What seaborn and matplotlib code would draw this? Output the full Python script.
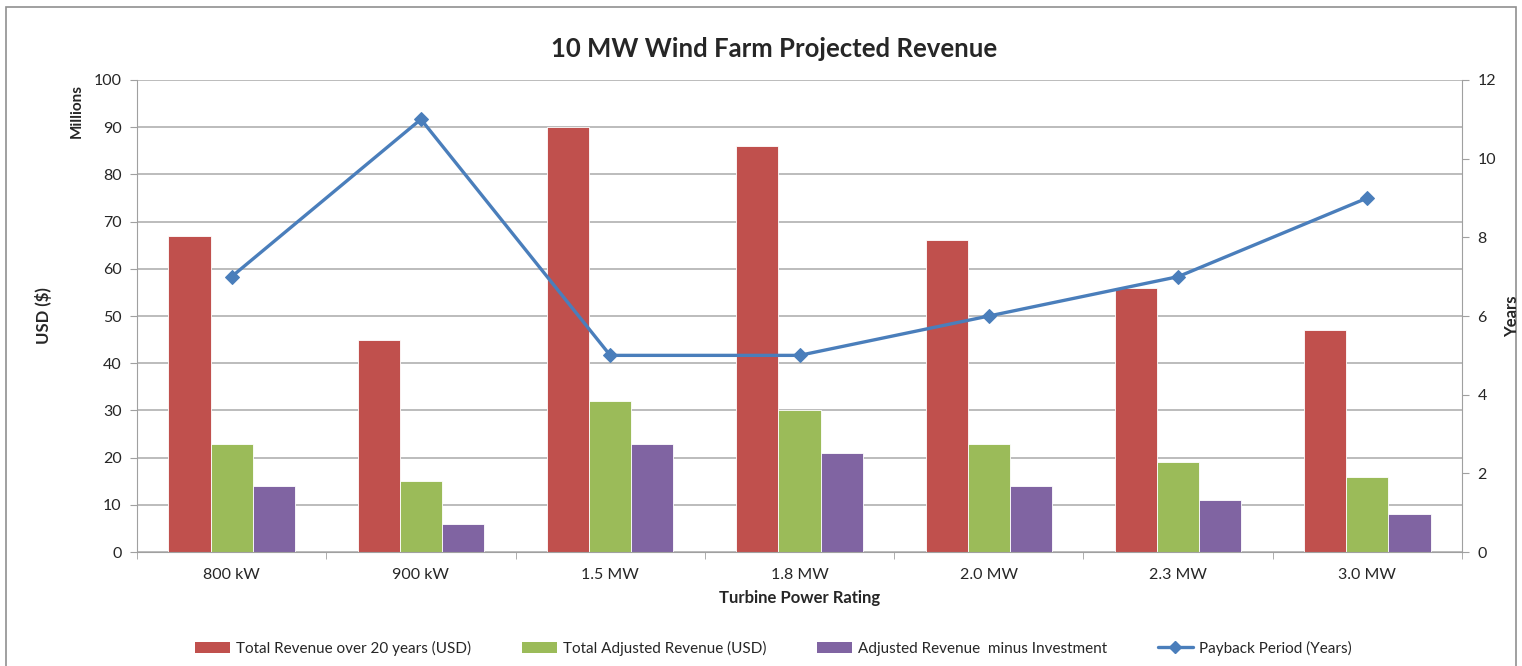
import numpy as np
import pandas as pd
import matplotlib
matplotlib.use("Agg")
import matplotlib.pyplot as plt
import seaborn as sns
from matplotlib.patches import Patch, Rectangle
from matplotlib.lines import Line2D

# Data
ratings = ["800 kW", "900 kW", "1.5 MW", "1.8 MW", "2.0 MW", "2.3 MW", "3.0 MW"]
total_revenue = [67, 45, 90, 86, 66, 56, 47]
adjusted_revenue = [23, 15, 32, 30, 23, 19, 16]
minus_investment = [14, 6, 23, 21, 14, 11, 8]
payback_years = [7, 11, 5, 5, 6, 7, 9]

series_names = ["Total Revenue over 20 years (USD)",
                "Total Adjusted Revenue (USD)",
                "Adjusted Revenue  minus Investment"]
colors = ["#C0504D", "#9BBB59", "#8064A2"]
line_color = "#4A7EBB"

df = pd.DataFrame({
    "rating": ratings * 3,
    "series": np.repeat(series_names, len(ratings)),
    "value": total_revenue + adjusted_revenue + minus_investment,
})

sns.set_style("white")
plt.rcParams["font.family"] = ["Lato", "DejaVu Sans"]

fig = plt.figure(figsize=(15.22, 6.66), dpi=100)
ax = fig.add_axes([0.090, 0.171, 0.8706, 0.709])

sns.barplot(data=df, x="rating", y="value", hue="series", palette=colors,
            width=0.667, gap=0, saturation=1, ax=ax, legend=False,
            edgecolor="white", linewidth=0.6)

ax.set_ylim(0, 100)
ax.set_yticks(range(0, 101, 10))
ax.set_xlim(-0.5, len(ratings) - 0.5)
ax.yaxis.grid(True, color="#b0b0b0", linewidth=1.2)
ax.set_axisbelow(True)
for s in ["top", "right"]:
    ax.spines[s].set_visible(False)
for s in ["left", "bottom"]:
    ax.spines[s].set_color("#a0a0a0")
ax.tick_params(axis="y", which="major", left=True, length=5, color="#a0a0a0",
               labelsize=11.5, pad=6)
ax.tick_params(axis="x", which="major", bottom=False, labelsize=11.5, pad=8)
ax.set_xticks(np.arange(-0.5, len(ratings), 1), minor=True)
ax.tick_params(axis="x", which="minor", bottom=True, length=5, color="#a0a0a0")
ax.set_xlabel("Turbine Power Rating", fontsize=12, fontweight="bold", labelpad=6)
ax.set_ylabel("USD ($)", fontsize=12, fontweight="bold", labelpad=30)
fig.text(0.0506, 0.833, "Millions", rotation=90, fontsize=11, fontweight="bold",
         ha="center", va="center")

ax2 = ax.twinx()
sns.lineplot(x=np.arange(len(ratings)), y=payback_years, ax=ax2, color=line_color,
             linewidth=2.4, marker="D", markersize=7, markeredgecolor=line_color)
ax2.set_ylim(0, 12)
ax2.set_yticks(range(0, 13, 2))
for s in ["top", "left", "bottom"]:
    ax2.spines[s].set_visible(False)
ax2.spines["right"].set_color("#a0a0a0")
ax2.tick_params(axis="y", right=True, length=5, color="#a0a0a0", labelsize=11.5, pad=6)
ax2.set_ylabel("")
ax2.grid(False)
fig.text(0.9935, 0.525, "Years", rotation=90, fontsize=12, fontweight="bold",
         ha="center", va="center")

fig.suptitle("10 MW Wind Farm Projected Revenue", fontsize=18.5, fontweight="bold",
             x=0.5086, y=0.945)

handles = [Patch(facecolor=c, edgecolor="none") for c in colors]
handles.append(Line2D([], [], color=line_color, linewidth=2.4, marker="D", markersize=6))
fig.legend(handles, series_names + ["Payback Period (Years)"], loc="center",
           bbox_to_anchor=(0.508, 0.027), ncol=4, frameon=False, fontsize=11,
           columnspacing=3.3, handlelength=2.3, handletextpad=0.4)

fig.add_artist(Rectangle((0.004, -0.01), 0.992, 1.0, transform=fig.transFigure,
                         fill=False, edgecolor="#909090", linewidth=1.2))

fig.savefig("out.png", dpi=100)
